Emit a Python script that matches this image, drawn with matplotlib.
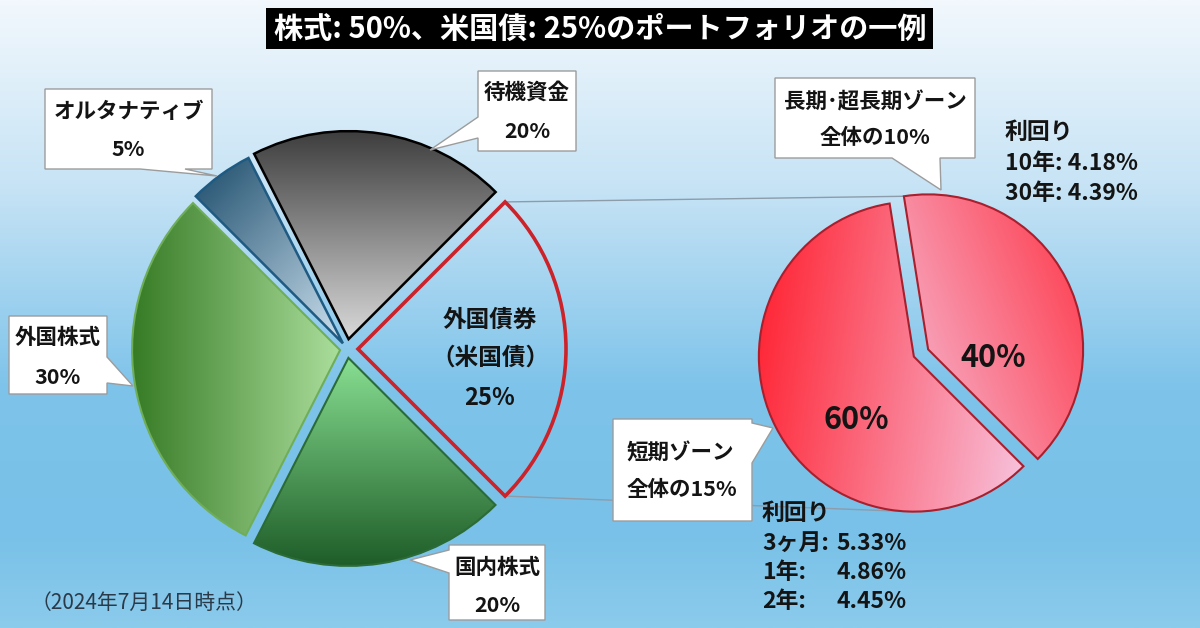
import numpy as np
import matplotlib
matplotlib.use('Agg')
import matplotlib.pyplot as plt
from matplotlib.colors import LinearSegmentedColormap
from matplotlib.patches import Polygon, Rectangle

plt.rcParams['font.family'] = ['Noto Sans CJK JP', 'DejaVu Sans']

W, H = 1200, 628

# Portfolio (left pie), order: counterclockwise from the right side
assets = ['外国債券', '待機資金', 'オルタナティブ', '外国株式', '国内株式']
asset_share = [25, 20, 5, 30, 20]

# Breakdown of the foreign bonds (right pie)
zones = ['短期ゾーン', '長期･超長期ゾーン']
zone_share = [60, 40]
zone_total = [15, 10]

short_terms = ['3ヶ月', '1年', '2年']
short_yields = [5.33, 4.86, 4.45]
long_terms = ['10年', '30年']
long_yields = [4.18, 4.39]

TEXT = '#141414'


def gradient_fill(ax, wedge, c0, c1, angle):
    # fill a wedge with a linear gradient, angle = visual direction (deg)
    v = wedge.get_path().vertices
    x0, x1 = v[:, 0].min(), v[:, 0].max()
    y0, y1 = v[:, 1].min(), v[:, 1].max()
    n = 200
    X, Yv = np.meshgrid(np.linspace(-1, 1, n), np.linspace(1, -1, n))
    a = np.radians(angle)
    t = X * np.cos(a) + Yv * np.sin(a)
    t = (t - t.min()) / (t.max() - t.min())
    cmap = LinearSegmentedColormap.from_list('g', [c0, c1])
    im = ax.imshow(t, cmap=cmap, extent=(x0, x1, y1, y0), origin='upper',
                   aspect='auto', interpolation='bilinear', zorder=2)
    im.set_clip_path(wedge)
    wedge.set_facecolor('none')
    wedge.set_zorder(3)


def rim(w, vis_deg):
    a = np.radians(-vis_deg)
    return w.center[0] + w.r * np.cos(a), w.center[1] + w.r * np.sin(a)


def callout(ax, box, edge, tail, lines, ys, size=15.5, ha='center', x=None):
    l, t, r, b = box
    corners = [(l, t), (r, t), (r, b), (l, b)]
    pts = []
    for i, c in enumerate(corners):
        pts.append(c)
        if i == edge:
            pts.extend(tail)
    ax.add_patch(Polygon(pts, closed=True, fc='white', ec='#9c9c9c', lw=1, zorder=6))
    if x is None:
        x = (l + r) / 2
    for s, y in zip(lines, ys):
        ax.text(x, y, s, ha=ha, va='center', fontsize=size, fontweight='bold',
                color=TEXT, zorder=7)


fig = plt.figure(figsize=(12, 6.28), dpi=100)
ax = fig.add_axes([0, 0, 1, 1])

# background
bg = LinearSegmentedColormap.from_list(
    'bg', [(0, '#f2f8fd'), (0.3, '#c6e3f5'), (0.62, '#7dc3ea'), (0.85, '#79c1e8'), (1, '#8bcbec')])
ax.imshow(np.linspace(0, 1, 256).reshape(-1, 1), cmap=bg, extent=(0, W, H, 0),
          origin='upper', aspect='auto', zorder=0)

# left pie
left, _ = ax.pie(asset_share, startangle=45, counterclock=False, radius=208,
                 center=(347, 349), explode=[11, 10, 7, 7, 9],
                 wedgeprops=dict(linewidth=1.5))
bond_w, cash_w, alt_w, fstock_w, dstock_w = left
bond_w.set_facecolor('none')
bond_w.set_edgecolor('#cc2229')
bond_w.set_linewidth(2.6)
bond_w.set_zorder(3)
gradient_fill(ax, cash_w, '#3a3a3a', '#d9d9d9', -90)
cash_w.set_edgecolor('black')
cash_w.set_linewidth(1.8)
gradient_fill(ax, alt_w, '#1c4c6b', '#cde2f0', -50)
alt_w.set_edgecolor('#1f5a82')
alt_w.set_linewidth(1.8)
gradient_fill(ax, fstock_w, '#367a24', '#abde9c', 0)
fstock_w.set_edgecolor('#6fae58')
gradient_fill(ax, dstock_w, '#88df92', '#1c5a26', -90)
dstock_w.set_edgecolor('#2b6b35')

# right pie
right, _ = ax.pie(zone_share, startangle=-99, counterclock=False, radius=155,
                  center=(921, 353), explode=[8, 8],
                  wedgeprops=dict(linewidth=1.5, edgecolor='#a8202e'))
short_w, long_w = right
gradient_fill(ax, short_w, '#ff1e2d', '#f7c4de', -10)
gradient_fill(ax, long_w, '#f5bdd6', '#ff3344', 30)

# connector lines between the pies
for p, q in [(rim(bond_w, 45), rim(long_w, 99)), (rim(bond_w, -45), rim(short_w, 268))]:
    ax.plot([p[0], q[0]], [p[1], q[1]], color='#8c9cab', lw=1, zorder=1)

# texts inside slices
for s, y in zip([assets[0], '（米国債）', f'{asset_share[0]}%'], [320, 358, 398]):
    ax.text(490, y, s, ha='center', va='center', fontsize=17, fontweight='bold', color=TEXT, zorder=7)
ax.text(856, 420, f'{zone_share[0]}%', ha='center', va='center', fontsize=22, fontweight='bold',
        color=TEXT, zorder=7)
ax.text(993, 358, f'{zone_share[1]}%', ha='center', va='center', fontsize=22, fontweight='bold',
        color=TEXT, zorder=7)

# callouts
callout(ax, (478, 71, 576, 151), 3, [(478, 138), (430, 150), (478, 117)],
        [assets[1], f'{asset_share[1]}%'], [92, 131])
callout(ax, (45, 89, 212, 169), 2, [(185, 169), (217, 176), (140, 169)],
        [assets[2], f'{asset_share[2]}%'], [111, 150])
callout(ax, (9, 316, 107, 394), 1, [(107, 357), (133, 386), (107, 383)],
        [assets[3], f'{asset_share[3]}%'], [338, 377])
callout(ax, (449, 545, 545, 620), 3, [(449, 573), (410, 560), (449, 550)],
        [assets[4], f'{asset_share[4]}%'], [567, 605])
callout(ax, (775, 78, 975, 158), 2, [(940, 158), (941, 190), (892, 158)],
        [zones[1], f'全体の{zone_total[1]}%'], [102, 138], size=15.5)
callout(ax, (613, 419, 752, 521), 1, [(752, 423), (773, 428), (752, 463)],
        [zones[0], f'全体の{zone_total[0]}%'], [453, 490], size=15.5, ha='left', x=627)

# yields
ax.text(1005, 132, '利回り', ha='left', va='center', fontsize=16.5, fontweight='bold', color=TEXT, zorder=7)
for i, (t, v) in enumerate(zip(long_terms, long_yields)):
    ax.text(1005, 164 + 29.5 * i, f'{t}: {v:.2f}%', ha='left', va='center', fontsize=16.5,
            fontweight='bold', color=TEXT, zorder=7)
ax.text(762, 513, '利回り', ha='left', va='center', fontsize=16.5, fontweight='bold', color=TEXT, zorder=7)
for i, (t, v) in enumerate(zip(short_terms, short_yields)):
    y = 543 + 29.5 * i
    ax.text(762, y, f'{t}:', ha='left', va='center', fontsize=16.5, fontweight='bold', color=TEXT, zorder=7)
    ax.text(907, y, f'{v:.2f}%', ha='right', va='center', fontsize=16.5, fontweight='bold', color=TEXT, zorder=7)

# title
ax.add_patch(Rectangle((266, 8), 667, 41, fc='black', ec='none', zorder=6))
ax.text(600, 29, '株式: 50%、米国債: 25%のポートフォリオの一例', ha='center', va='center',
        fontsize=21, fontweight='bold', color='white', zorder=7)

ax.text(31, 603, '（2024年7月14日時点）', ha='left', va='center', fontsize=15, color='#2b3a48', zorder=7)

ax.set_xlim(0, W)
ax.set_ylim(H, 0)
ax.set_aspect('auto')
ax.axis('off')

fig.savefig('out.png', dpi=100)
